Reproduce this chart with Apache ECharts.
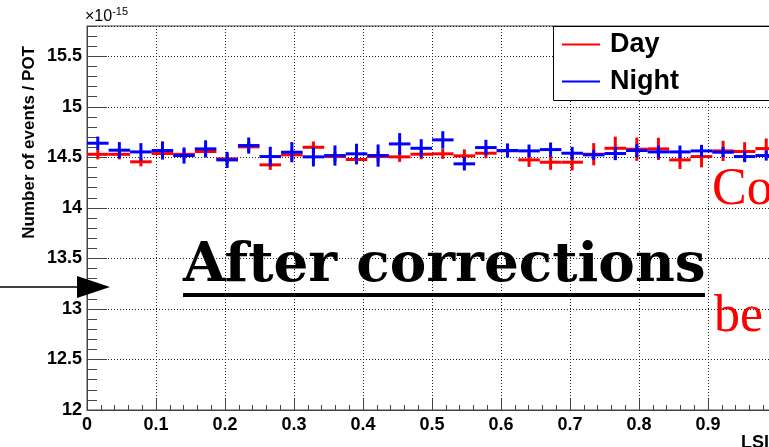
<!DOCTYPE html>
<html>
<head>
<meta charset="utf-8">
<script src="https://cdn.jsdelivr.net/npm/echarts@6/dist/echarts.min.js"></script>
<style>
  html, body { margin: 0; padding: 0; background: #fff; }
  #chart { width: 769px; height: 447px; }
</style>
</head>
<body>
<div id="chart"></div>
<script>
// 32 uniform bins on [0, 1]
const nBins = 32
const binWidth = 1 / nBins
const binCenters = Array.from({ length: nBins }, (_, i) => (i + 0.5) * binWidth)

const dayValues = [14.53, 14.53, 14.456, 14.538, 14.53, 14.558, 14.485, 14.604, 14.426, 14.525, 14.6, 14.508,
  14.479, 14.508, 14.505, 14.531, 14.535, 14.515, 14.541, 14.565, 14.475, 14.452, 14.452, 14.531,
  14.59, 14.581, 14.584, 14.475, 14.508, 14.564, 14.558, 14.587]
const dayErrors = [0.05, 0.05, 0.045, 0.05, 0.05, 0.05, 0.05, 0.05, 0.05, 0.05, 0.057, 0.05,
  0.05, 0.05, 0.05, 0.05, 0.05, 0.065, 0.05, 0.05, 0.07, 0.075, 0.08, 0.11,
  0.115, 0.115, 0.11, 0.09, 0.107, 0.1, 0.092, 0.1]
const nightValues = [14.64, 14.571, 14.554, 14.568, 14.518, 14.584, 14.475, 14.617, 14.508, 14.551, 14.505, 14.518,
  14.535, 14.518, 14.633, 14.59, 14.673, 14.436, 14.597, 14.568, 14.564, 14.577, 14.541, 14.525,
  14.538, 14.568, 14.554, 14.554, 14.564, 14.551, 14.508, 14.518]
const nightErrors = [0.066, 0.08, 0.087, 0.09, 0.08, 0.085, 0.08, 0.08, 0.097, 0.1, 0.095, 0.1,
  0.1, 0.11, 0.107, 0.09, 0.086, 0.066, 0.077, 0.07, 0.063, 0.07, 0.063, 0.05,
  0.066, 0.066, 0.063, 0.063, 0.06, 0.05, 0.056, 0.05]

const seriesNames = ['Day', 'Night']
const seriesColors = ['#ff0000', '#0000ff']

const chart = echarts.init(document.getElementById('chart'))

function crossItem(params, api) {
  const x = api.value(0), y = api.value(1), e = api.value(2)
  const l = api.coord([x - binWidth / 2, y])
  const r = api.coord([x + binWidth / 2, y])
  const t = api.coord([x, y + e])
  const b = api.coord([x, y - e])
  const style = { stroke: api.visual('color'), lineWidth: 3 }
  return {
    type: 'group',
    children: [
      { type: 'line', shape: { x1: l[0], y1: l[1], x2: r[0], y2: r[1] }, style },
      { type: 'line', shape: { x1: t[0], y1: t[1], x2: b[0], y2: b[1] }, style },
    ],
  }
}

function toData(vals, errs) {
  return vals.map((v, i) => [binCenters[i], v, errs[i]])
}

const labelFont = { fontFamily: 'Liberation Sans', fontWeight: 'bold', fontSize: 18, color: '#000' }
const gridLine = { show: true, lineStyle: { color: '#222', type: [1, 2], width: 1 } }

chart.setOption({
  backgroundColor: '#fff',
  animation: false,
  grid: {
    left: 87, top: 26, width: 690, height: 384,
    outerBoundsMode: 'none', containLabel: false,
    show: true, backgroundColor: '#fff', borderColor: '#444', borderWidth: 1,
  },
  legend: {
    left: 562, top: 31,
    orient: 'vertical',
    icon: 'rect',
    itemWidth: 38, itemHeight: 2,
    itemGap: 10,
    padding: 0,
    z: 10,
    textStyle: { fontFamily: 'Liberation Sans', fontWeight: 'bold', fontSize: 27, color: '#000', padding: [0, 0, 0, 5] },
    data: seriesNames,
  },
  xAxis: {
    type: 'value', min: 0, max: 1, interval: 0.1,
    axisLine: { lineStyle: { color: '#444' } },
    axisTick: { inside: true, length: 11, lineStyle: { color: '#444' } },
    minorTick: { show: true, splitNumber: 5, length: 5, lineStyle: { color: '#444' } },
    axisLabel: { ...labelFont, margin: 6 },
    splitLine: gridLine,
  },
  yAxis: [
    {
      type: 'value', min: 12, max: 15.8, interval: 0.5,
      axisLine: { show: true, lineStyle: { color: '#444' } },
      axisTick: { show: true, inside: true, length: 20, lineStyle: { color: '#444' } },
      axisLabel: { ...labelFont, margin: 5, showMaxLabel: false },
      splitLine: gridLine,
    },
    {
      type: 'value', min: 12, max: 15.8, interval: 0.1, position: 'left',
      axisLine: { show: false },
      axisTick: { show: true, inside: true, length: 10, lineStyle: { color: '#444' } },
      axisLabel: { show: false },
      splitLine: { show: false },
    },
  ],
  series: [
    { name: 'Day', type: 'custom', color: seriesColors[0], renderItem: crossItem, data: toData(dayValues, dayErrors), z: 3 },
    { name: 'Night', type: 'custom', color: seriesColors[1], renderItem: crossItem, data: toData(nightValues, nightErrors), z: 4 },
  ],
  graphic: [
    // legend box
    { type: 'rect', left: 553, top: 26, shape: { width: 260, height: 74 },
      style: { fill: '#fff', stroke: '#000', lineWidth: 1 }, z: 5 },
    // exponent
    { type: 'text', left: 85, top: 6, z: 6,
      style: { text: '{a|×10}{b|-15}', rich: {
        a: { fontFamily: 'Liberation Sans', fontSize: 16, fill: '#000', verticalAlign: 'bottom' },
        b: { fontFamily: 'Liberation Sans', fontSize: 11, fill: '#000', verticalAlign: 'top', padding: [0, 0, 8, 0] } } } },
    // y title
    { type: 'text', x: 29, y: 46, rotation: Math.PI / 2, z: 6,
      style: { text: 'Number of events / POT', fontFamily: 'Liberation Sans', fontWeight: 'bold', fontSize: 17,
        fill: '#000', align: 'right', verticalAlign: 'middle' } },
    // x title (cut off)
    { type: 'text', x: 741, y: 434, z: 6,
      style: { text: 'LSI', fontFamily: 'Liberation Sans', fontWeight: 'bold', fontSize: 18, fill: '#000' } },
    // annotation
    { type: 'text', x: 183, y: 240, z: 7, scaleX: 1.015,
      style: { text: 'After corrections', fontFamily: 'DejaVu Serif', fontWeight: 'bold', fontSize: 54,
        fill: '#000', verticalAlign: 'top' } },
    { type: 'rect', shape: { x: 183, y: 293, width: 522, height: 4 }, style: { fill: '#000' }, z: 7 },
    { type: 'line', shape: { x1: 0, y1: 287, x2: 85, y2: 287 }, style: { stroke: '#000', lineWidth: 1.5 }, z: 7 },
    { type: 'polygon', shape: { points: [[77, 276], [110, 287], [77, 298]] }, style: { fill: '#000' }, z: 7 },
    { type: 'text', x: 712, y: 164, z: 7,
      style: { text: 'Co', fontFamily: 'Liberation Serif', fontSize: 52, fill: '#ff0000', verticalAlign: 'top' } },
    { type: 'text', x: 714, y: 291, z: 7,
      style: { text: 'be', fontFamily: 'Liberation Serif', fontSize: 52, fill: '#ff0000', verticalAlign: 'top' } },
  ],
})
</script>
</body>
</html>
